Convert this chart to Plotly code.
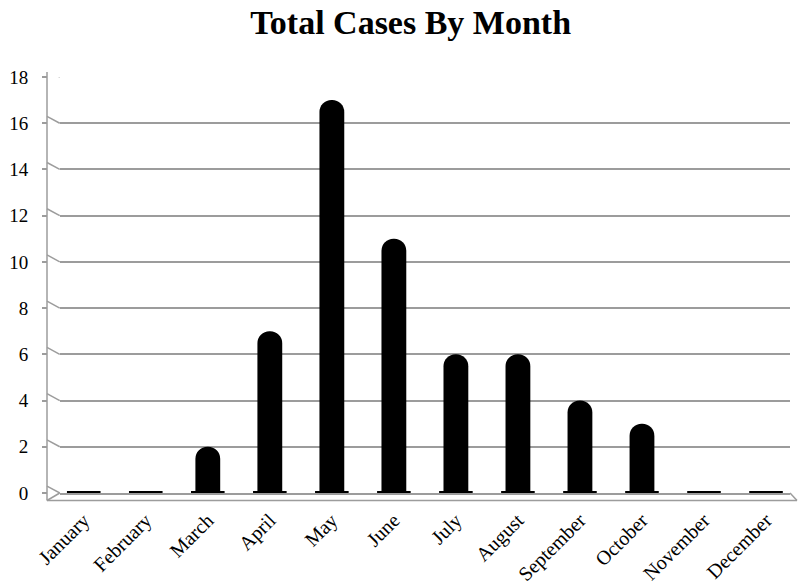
import plotly.graph_objects as go

months = ["January", "February", "March", "April", "May", "June", "July",
          "August", "September", "October", "November", "December"]
cases = [0, 0, 2, 7, 17, 11, 6, 6, 4, 3, 0, 0]
y_ticks = [0, 2, 4, 6, 8, 10, 12, 14, 16, 18]

FONT = "Liberation Serif"
GRID = "#9c9c9c"
DX0 = 0.017      # back wall starts here (paper fraction)
DX1 = 0.9907     # back wall ends here
FRONT = -0.018   # front floor edge (paper fraction)

fig = go.Figure()
fig.add_trace(go.Bar(
    x=months, y=cases, width=0.4,
    marker=dict(color="black", line=dict(width=0)),
    hoverinfo="x+y",
))
# base ellipse of each cylinder (visible for zero months)
fig.add_trace(go.Scatter(
    x=months, y=[0] * len(months), mode="markers",
    marker=dict(symbol="line-ew", size=24, color="black",
                line=dict(width=4, color="black")),
    hoverinfo="skip", cliponaxis=False,
))

line_style = dict(color=GRID, width=1.5)
shapes = []
# perspective connectors between the front axis and back wall
for v in y_ticks:
    shapes.append(dict(type="line", xref="paper", yref="y",
                       x0=0, x1=DX0, y0=v + 0.3, y1=v,
                       line=line_style, layer="below"))
# front axis
shapes.append(dict(type="line", xref="paper", yref="paper",
                   x0=0, x1=0, y0=FRONT, y1=1.012, line=line_style))
# floor front edge and side edges
shapes.append(dict(type="line", xref="paper", yref="paper",
                   x0=0, x1=1, y0=FRONT, y1=FRONT, line=line_style))
shapes.append(dict(type="line", xref="paper", yref="paper",
                   x0=1, x1=DX1, y0=FRONT, y1=0, line=line_style))
shapes.append(dict(type="line", xref="paper", yref="paper",
                   x0=0, x1=DX0, y0=FRONT, y1=0, line=line_style))

fig.update_layout(
    width=799, height=587,
    margin=dict(l=47, r=2, t=77, b=94),
    paper_bgcolor="white", plot_bgcolor="white",
    showlegend=False,
    barcornerradius=12,
    title=dict(text="<b>Total Cases By Month</b>", x=0.514, xanchor="center",
               y=0.962, yanchor="middle",
               font=dict(family=FONT, size=34, color="black")),
    font=dict(family=FONT, color="black"),
    shapes=shapes,
    xaxis=dict(domain=[DX0, DX1], type="category", range=[-0.387, 11.387],
               tickangle=-45, tickfont=dict(size=20),
               showgrid=False, showline=True, linecolor=GRID, linewidth=1.5,
               ticks="", ticklabelstandoff=6),
    yaxis=dict(range=[0, 18], tickvals=y_ticks, anchor="free", position=0,
               tickfont=dict(size=19), showgrid=True, gridcolor=GRID,
               gridwidth=1.5, zeroline=False, showline=False,
               ticks="outside", ticklen=5, tickcolor=GRID, tickwidth=1.5,
               ticklabelstandoff=10),
)

fig.write_html("out.html")
